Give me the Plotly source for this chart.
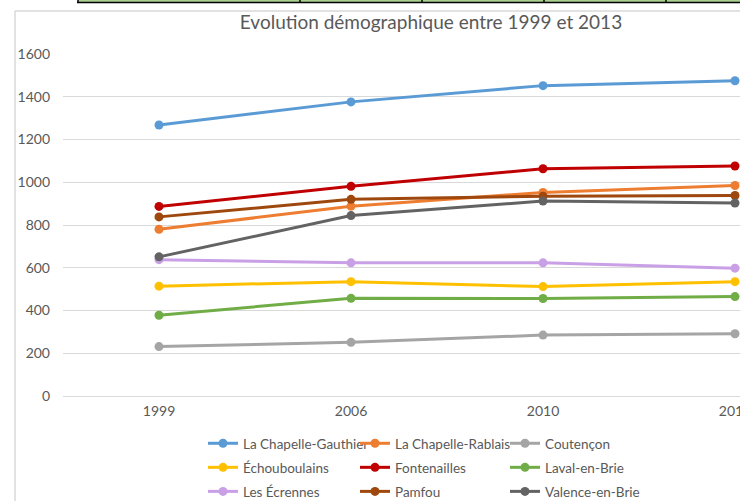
import plotly.graph_objects as go

years = ["1999", "2006", "2010", "2013"]

communes = [
    "La Chapelle-Gauthier", "La Chapelle-Rablais", "Coutençon",
    "Échouboulains", "Fontenailles", "Laval-en-Brie",
    "Les Écrennes", "Pamfou", "Valence-en-Brie",
]

chapelle_gauthier = [1268, 1376, 1452, 1475]
chapelle_rablais = [780, 888, 952, 985]
coutencon = [231, 251, 285, 291]
echouboulains = [514, 535, 512, 535]
fontenailles = [887, 981, 1063, 1076]
laval_en_brie = [378, 457, 456, 465]
les_ecrennes = [638, 623, 623, 598]
pamfou = [838, 920, 935, 938]
valence_en_brie = [651, 844, 912, 903]

series = [chapelle_gauthier, chapelle_rablais, coutencon,
          echouboulains, fontenailles, laval_en_brie,
          les_ecrennes, pamfou, valence_en_brie]

colors = ["#5B9BD5", "#ED7D31", "#A5A5A5",
          "#FFC000", "#C00000", "#70AD47",
          "#C9A0E6", "#9E480E", "#636363"]

legend_ids = ["legend", "legend2", "legend3"]

FONT = "Lato"
TXT = "#595959"

fig = go.Figure()
for i, (name, vals, col) in enumerate(zip(communes, series, colors)):
    fig.add_trace(go.Scatter(
        x=years, y=vals, name=name, mode="lines+markers",
        line=dict(color=col, width=3),
        marker=dict(color=col, size=9),
        legend=legend_ids[i % 3],
        legendgroup=name,
    ))

# pixel geometry helpers (plot area: x 63..740, y 54..396)
L, R, T, B = 63, 740, 54, 396
def px(x):
    return (x - L) / (R - L)
def py(y):
    return (B - y) / (B - T)

shapes = [
    # chart area border (light grey)
    dict(type="line", xref="paper", yref="paper", x0=px(15), x1=px(15),
         y0=py(11), y1=py(520), line=dict(color="#D9D9D9", width=1.5)),
    dict(type="line", xref="paper", yref="paper", x0=px(15), x1=px(760),
         y0=py(11), y1=py(11), line=dict(color="#D9D9D9", width=1.5)),
    # spreadsheet row visible above the chart
    dict(type="rect", xref="paper", yref="paper", x0=px(78), x1=px(760),
         y0=py(-2), y1=py(2), fillcolor="#A9D08E", line=dict(width=0)),
    dict(type="line", xref="paper", yref="paper", x0=px(77), x1=px(760),
         y0=py(2.5), y1=py(2.5), line=dict(color="#000000", width=1.5)),
]
for vx in [78, 300, 422, 544, 666]:
    shapes.append(dict(type="line", xref="paper", yref="paper",
                       x0=px(vx), x1=px(vx), y0=py(-2), y1=py(3),
                       line=dict(color="#000000", width=1.5)))

legend_common = dict(
    orientation="v", xref="container", yref="container",
    xanchor="left", yanchor="top", y=1 - 428 / 501,
    font=dict(family=FONT, size=13.5, color=TXT),
    bgcolor="rgba(0,0,0,0)", borderwidth=0,
    tracegroupgap=3.5, itemwidth=30,
)

fig.update_layout(
    width=740, height=501,
    margin=dict(l=L, r=0, t=T, b=501 - B, pad=0, autoexpand=False),
    paper_bgcolor="white", plot_bgcolor="white",
    font=dict(family=FONT, color=TXT),
    title=dict(text="Evolution démographique entre 1999 et 2013",
               x=431 / 740, xref="container", xanchor="center",
               y=1 - 22 / 501, yref="container", yanchor="middle",
               font=dict(family=FONT, size=19, color=TXT)),
    xaxis=dict(type="category", range=[-0.5, -0.5 + (R - L) / 192],
               showgrid=False, zeroline=False, showline=False,
               ticks="", tickfont=dict(family=FONT, size=14, color=TXT),
               ticklabelstandoff=5, automargin=False),
    yaxis=dict(range=[0, 1600], dtick=200, showgrid=True,
               gridcolor="#D9D9D9", gridwidth=1, zeroline=True,
               zerolinecolor="#D9D9D9", zerolinewidth=1, showline=False,
               ticks="", tickfont=dict(family=FONT, size=14, color=TXT),
               ticklabelstandoff=12, automargin=False),
    legend=dict(legend_common, x=203 / 740),
    legend2=dict(legend_common, x=355 / 740),
    legend3=dict(legend_common, x=505 / 740),
    shapes=shapes,
    showlegend=True,
)

fig.write_html(
    "out.html",
    config={"displayModeBar": False},
    post_script="document.body.style.margin='0';document.body.style.overflow='hidden';",
)
